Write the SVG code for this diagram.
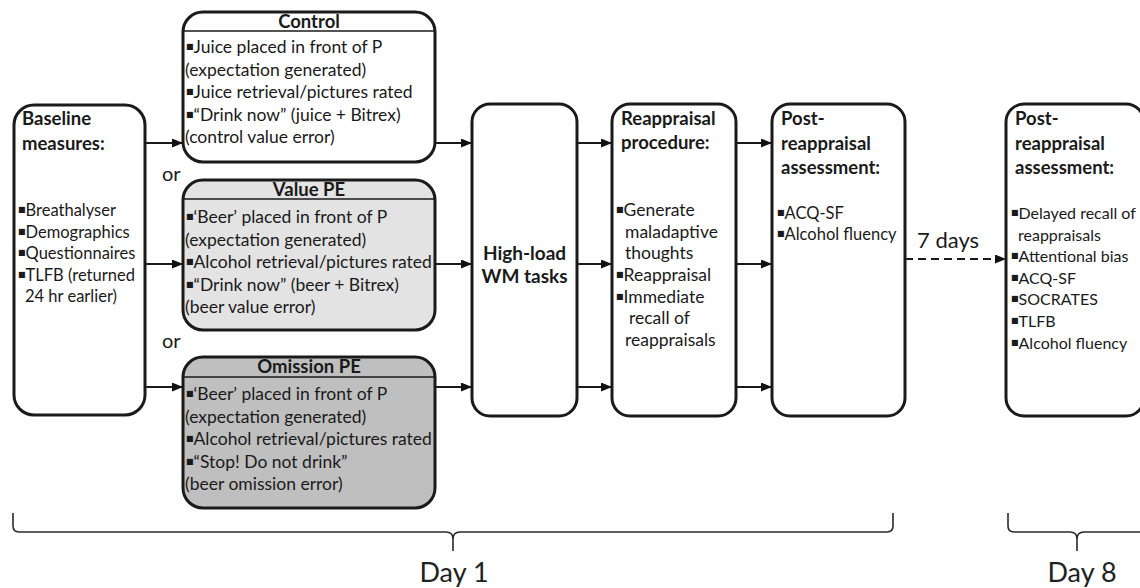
<svg xmlns="http://www.w3.org/2000/svg" width="1140" height="588" viewBox="0 0 1140 588">
<defs>
<marker id="ah" markerWidth="11" markerHeight="9" refX="10" refY="4.5" orient="auto" markerUnits="userSpaceOnUse"><path d="M0,0 L11,4.5 L0,9 z" fill="#111"/></marker>
<style>
.box{fill:#fff;stroke:#1a1a1a;stroke-width:3}
.sep{stroke:#1a1a1a;stroke-width:1.5}
text{font-family:Lato,"Liberation Sans",sans-serif;fill:#1a1a1a}
.t{font-size:17.5px}
.s{font-size:16.5px}
.xs{font-size:16px}
.b{font-size:18.5px;font-weight:bold}
.h{font-size:18.5px;font-weight:bold;text-anchor:middle}
.or{font-size:20px}
.bul{font-family:"DejaVu Sans",sans-serif;font-size:8px}
.conn{stroke:#1a1a1a;stroke-width:2;fill:none}
.brace{stroke:#2a2a2a;stroke-width:1.6;fill:none}
.big{font-size:27px;text-anchor:middle;fill:#222}
</style>
</defs>
<rect width="1140" height="588" fill="#fff"/>

<g id="baseline">
<rect class="box" x="14" y="105" width="131" height="310" rx="20"/>
<text class="b" x="22" y="125">Baseline</text>
<text class="b" x="22" y="150">measures:</text>
<text class="s" x="18" y="216"><tspan class="bul" dy="-4">■</tspan><tspan dy="4">Breathalyser</tspan></text>
<text class="s" x="18" y="237.5"><tspan class="bul" dy="-4">■</tspan><tspan dy="4">Demographics</tspan></text>
<text class="s" x="18" y="259"><tspan class="bul" dy="-4">■</tspan><tspan dy="4">Questionnaires</tspan></text>
<text class="s" x="18" y="280.5"><tspan class="bul" dy="-4">■</tspan><tspan dy="4">TLFB (returned</tspan></text>
<text class="s" x="25" y="302">24 hr earlier)</text>
</g>

<g id="control">
<rect class="box" x="183" y="12" width="252" height="150" rx="20"/>
<line class="sep" x1="183" y1="31" x2="435" y2="31"/>
<text class="h" x="309" y="28">Control</text>
<text class="t" x="186" y="53"><tspan class="bul" dy="-4">■</tspan><tspan dy="4">Juice placed in front of P</tspan></text>
<text class="t" x="185" y="75.5">(expectation generated)</text>
<text class="t" x="186" y="98"><tspan class="bul" dy="-4">■</tspan><tspan dy="4">Juice retrieval/pictures rated</tspan></text>
<text class="t" x="186" y="120.5"><tspan class="bul" dy="-4">■</tspan><tspan dy="4">“Drink now” (juice + Bitrex)</tspan></text>
<text class="t" x="185" y="143">(control value error)</text>
</g>

<g id="valuepe">
<rect class="box" x="183" y="180" width="252" height="150" rx="20" style="fill:#e3e3e3"/>
<line class="sep" x1="183" y1="199" x2="435" y2="199"/>
<text class="h" x="309" y="196">Value PE</text>
<text class="t" x="186" y="223"><tspan class="bul" dy="-4">■</tspan><tspan dy="4">‘Beer’ placed in front of P</tspan></text>
<text class="t" x="185" y="246">(expectation generated)</text>
<text class="t" x="186" y="268"><tspan class="bul" dy="-4">■</tspan><tspan dy="4">Alcohol retrieval/pictures rated</tspan></text>
<text class="t" x="186" y="291"><tspan class="bul" dy="-4">■</tspan><tspan dy="4">“Drink now” (beer + Bitrex)</tspan></text>
<text class="t" x="185" y="313">(beer value error)</text>
</g>

<g id="omissionpe">
<rect class="box" x="183" y="357" width="252" height="151" rx="20" style="fill:#bfbfbf"/>
<line class="sep" x1="183" y1="377" x2="435" y2="377"/>
<text class="h" x="309" y="373">Omission PE</text>
<text class="t" x="186" y="400"><tspan class="bul" dy="-4">■</tspan><tspan dy="4">‘Beer’ placed in front of P</tspan></text>
<text class="t" x="185" y="423">(expectation generated)</text>
<text class="t" x="186" y="445"><tspan class="bul" dy="-4">■</tspan><tspan dy="4">Alcohol retrieval/pictures rated</tspan></text>
<text class="t" x="186" y="468"><tspan class="bul" dy="-4">■</tspan><tspan dy="4">“Stop! Do not drink”</tspan></text>
<text class="t" x="185" y="490">(beer omission error)</text>
</g>

<g id="or-labels">
<text class="or" x="162" y="181">or</text>
<text class="or" x="162" y="348">or</text>
</g>

<g id="highload">
<rect class="box" x="472" y="104" width="105" height="312" rx="18"/>
<text class="h" x="524.5" y="260" style="font-size:19px">High-load</text>
<text class="h" x="524.5" y="283" style="font-size:19px">WM tasks</text>
</g>

<g id="reappraisal">
<rect class="box" x="612" y="104" width="124" height="312" rx="18"/>
<text class="b" x="621" y="125">Reappraisal</text>
<text class="b" x="621" y="149">procedure:</text>
<text class="t" x="616" y="216"><tspan class="bul" dy="-4">■</tspan><tspan dy="4">Generate</tspan></text>
<text class="t" x="625" y="237.5">maladaptive</text>
<text class="t" x="625" y="259">thoughts</text>
<text class="t" x="616" y="281"><tspan class="bul" dy="-4">■</tspan><tspan dy="4">Reappraisal</tspan></text>
<text class="t" x="616" y="303"><tspan class="bul" dy="-4">■</tspan><tspan dy="4">Immediate</tspan></text>
<text class="t" x="629" y="324">recall of</text>
<text class="t" x="625" y="346">reappraisals</text>
</g>

<g id="post1">
<rect class="box" x="772" y="104" width="133" height="312" rx="18"/>
<text class="b" x="781" y="125">Post-</text>
<text class="b" x="781" y="150">reappraisal</text>
<text class="b" x="781" y="174">assessment:</text>
<text class="s" x="777" y="219"><tspan class="bul" dy="-4">■</tspan><tspan dy="4">ACQ-SF</tspan></text>
<text class="s" x="777" y="240"><tspan class="bul" dy="-4">■</tspan><tspan dy="4">Alcohol fluency</tspan></text>
</g>

<g id="post2">
<rect class="box" x="1006" y="104" width="138" height="312" rx="18"/>
<text class="b" x="1015" y="125">Post-</text>
<text class="b" x="1015" y="150">reappraisal</text>
<text class="b" x="1015" y="174">assessment:</text>
<text class="xs" x="1011" y="219"><tspan class="bul" dy="-4">■</tspan><tspan dy="4">Delayed recall of</tspan></text>
<text class="xs" x="1018" y="241">reappraisals</text>
<text class="xs" x="1011" y="262"><tspan class="bul" dy="-4">■</tspan><tspan dy="4">Attentional bias</tspan></text>
<text class="xs" x="1011" y="284"><tspan class="bul" dy="-4">■</tspan><tspan dy="4">ACQ-SF</tspan></text>
<text class="xs" x="1011" y="305"><tspan class="bul" dy="-4">■</tspan><tspan dy="4">SOCRATES</tspan></text>
<text class="xs" x="1011" y="327"><tspan class="bul" dy="-4">■</tspan><tspan dy="4">TLFB</tspan></text>
<text class="xs" x="1011" y="349"><tspan class="bul" dy="-4">■</tspan><tspan dy="4">Alcohol fluency</tspan></text>
</g>

<g id="connectors">
<path class="conn" marker-end="url(#ah)" d="M145,143 H182"/>
<path class="conn" marker-end="url(#ah)" d="M145,264 H182"/>
<path class="conn" marker-end="url(#ah)" d="M145,387 H182"/>
<path class="conn" marker-end="url(#ah)" d="M435,143 H471"/>
<path class="conn" marker-end="url(#ah)" d="M435,264 H471"/>
<path class="conn" marker-end="url(#ah)" d="M435,387 H471"/>
<path class="conn" marker-end="url(#ah)" d="M577,143 H611"/>
<path class="conn" marker-end="url(#ah)" d="M577,264 H611"/>
<path class="conn" marker-end="url(#ah)" d="M577,387 H611"/>
<path class="conn" marker-end="url(#ah)" d="M736,143 H771"/>
<path class="conn" marker-end="url(#ah)" d="M736,264 H771"/>
<path class="conn" marker-end="url(#ah)" d="M736,387 H771"/>
<path class="conn" marker-end="url(#ah)" d="M905,259 H1005" stroke-dasharray="8,5"/>
<text x="917" y="248" style="font-size:22px">7 days</text>
</g>

<g id="day1">
<path class="brace" d="M13,513 V526 Q13,532 19,532 H446 Q453,532 453,539 V551 M453,539 Q453,532 460,532 H887 Q893,532 893,526 V513"/>
<text class="big" x="454" y="582">Day 1</text>
</g>

<g id="day8">
<path class="brace" d="M1008,513 V526 Q1008,532 1014,532 H1070 Q1077,532 1077,539 V551 M1077,539 Q1077,532 1084,532 H1142"/>
<text class="big" x="1082" y="582">Day 8</text>
</g>
</svg>
